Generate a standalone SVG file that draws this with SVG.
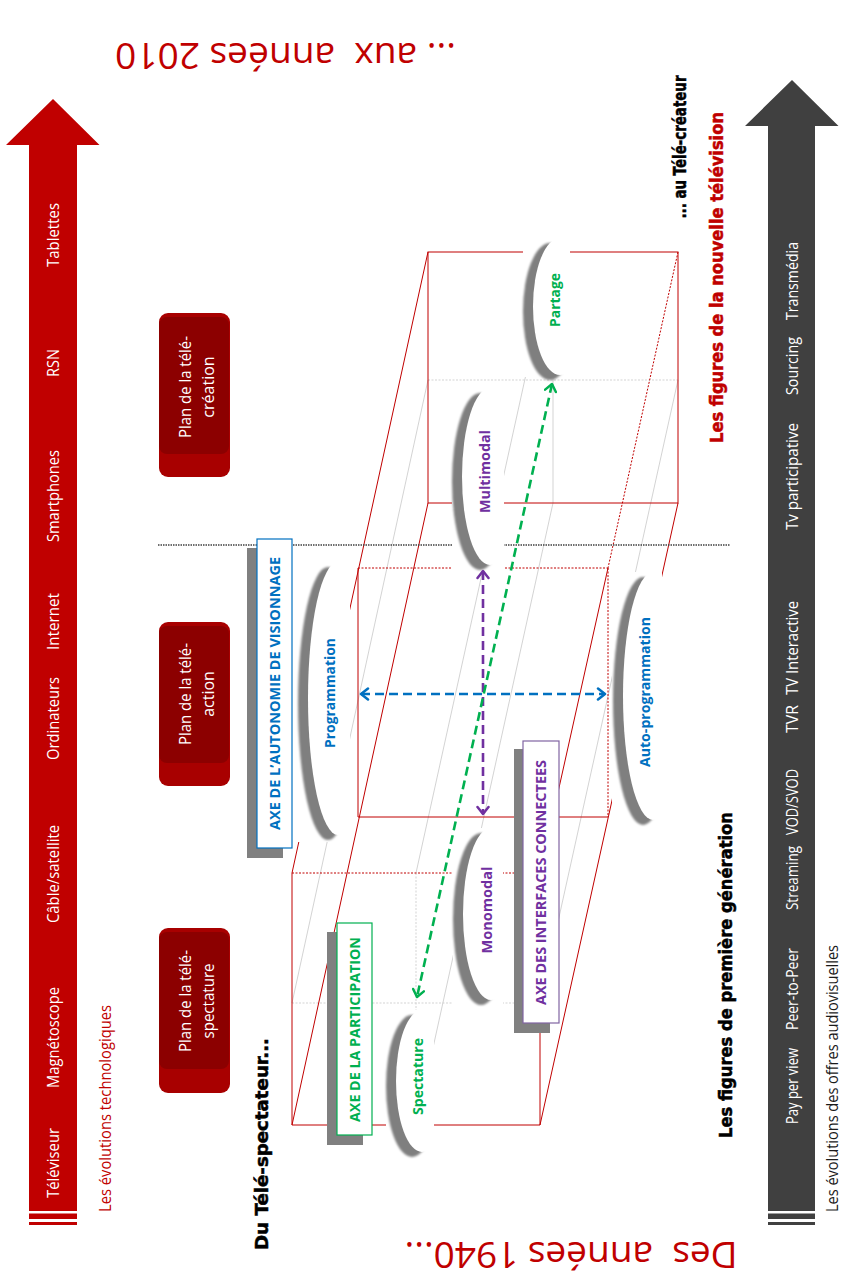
<svg xmlns="http://www.w3.org/2000/svg" width="842" height="1280" viewBox="0 0 842 1280">
<defs>
<style>
.wl{font-family:"Open Sans","Liberation Sans",sans-serif;font-size:16px;fill:#fff;text-anchor:middle}
.sm{font-family:"Open Sans","Liberation Sans",sans-serif;font-size:15.5px;text-anchor:middle}
.hv{font-family:"DejaVu Sans","Liberation Sans",sans-serif;font-weight:bold;font-size:17px;text-anchor:middle;stroke-width:0.5}
.big{font-family:"Open Sans","Liberation Sans",sans-serif;font-size:37px;fill:#c00000;text-anchor:middle}
.ax{font-family:"Open Sans","Liberation Sans",sans-serif;font-weight:bold;font-size:15px;text-anchor:middle}
.nd{font-family:"Open Sans","Liberation Sans",sans-serif;font-weight:bold;font-size:14.5px;text-anchor:middle}
.rl{stroke:#c00000;stroke-width:1;fill:none}
.rd{stroke:#c00000;stroke-width:1;fill:none;stroke-dasharray:2 1.5}
.gl{stroke:#c8c8c8;stroke-width:0.8;fill:none}
.gd{stroke:#c8c8c8;stroke-width:0.8;fill:none;stroke-dasharray:2 1.5}
.wr{fill:#fff}
.cr{fill:#000;filter:url(#crs)}
.shd{fill:#808080}
.pl{fill:#a80000}
.pf{fill:#8c0000}
</style>
<filter id="crs" x="-80%" y="-20%" width="260%" height="140%" color-interpolation-filters="sRGB">
<feOffset in="SourceAlpha" dx="-10" dy="5" result="o"/>
<feGaussianBlur in="o" stdDeviation="0.8" result="b"/>
<feComposite in="b" in2="SourceAlpha" operator="out" result="s"/>
<feFlood flood-color="#7f7f7f"/>
<feComposite in2="s" operator="in"/>
</filter>
<marker id="mb" markerWidth="14" markerHeight="14" refX="11" refY="7" orient="auto-start-reverse" markerUnits="userSpaceOnUse"><path d="M4,1.5 L11,7 L4,12.5" fill="none" stroke="#0070c0" stroke-width="2.5" stroke-linecap="round" stroke-linejoin="round"/></marker>
<marker id="mp" markerWidth="14" markerHeight="14" refX="11" refY="7" orient="auto-start-reverse" markerUnits="userSpaceOnUse"><path d="M4,1.5 L11,7 L4,12.5" fill="none" stroke="#7030a0" stroke-width="2.5" stroke-linecap="round" stroke-linejoin="round"/></marker>
<marker id="mg" markerWidth="14" markerHeight="14" refX="11" refY="7" orient="auto-start-reverse" markerUnits="userSpaceOnUse"><path d="M4,1.5 L11,7 L4,12.5" fill="none" stroke="#00b050" stroke-width="2.5" stroke-linecap="round" stroke-linejoin="round"/></marker>
</defs>
<rect width="842" height="1280" fill="#fff"/>

<g id="titles">
<text class="big" xml:space="preserve" transform="translate(285.5,43) rotate(180)" textLength="341" lengthAdjust="spacingAndGlyphs">... aux  années 2010</text>
<text class="big" xml:space="preserve" transform="translate(571,1242) rotate(180)" textLength="333" lengthAdjust="spacingAndGlyphs">Des  années 1940...</text>
<text class="hv" fill="#000" stroke="#000" transform="translate(680,147) rotate(-90)" dy="0.36em" textLength="143" lengthAdjust="spacingAndGlyphs">... au Télé-créateur</text>
<text class="hv" fill="#c00000" stroke="#c00000" transform="translate(717,277.5) rotate(-90)" dy="0.36em" textLength="331" lengthAdjust="spacingAndGlyphs">Les figures de la nouvelle télévision</text>
<text class="hv" fill="#000" stroke="#000" transform="translate(262,1144) rotate(-90)" dy="0.36em" textLength="212" lengthAdjust="spacingAndGlyphs">Du Télé-spectateur...</text>
<text class="hv" fill="#000" stroke="#000" transform="translate(726,975) rotate(-90)" dy="0.36em" textLength="326" lengthAdjust="spacingAndGlyphs">Les figures de première génération</text>
<text class="sm" fill="#c00000" transform="translate(106,1108.5) rotate(-90)" dy="0.35em" textLength="207" lengthAdjust="spacingAndGlyphs">Les évolutions technologiques</text>
<text class="sm" fill="#1a1a1a" transform="translate(833,1078.5) rotate(-90)" dy="0.35em" textLength="267" lengthAdjust="spacingAndGlyphs">Les évolutions des offres audiovisuelles</text>
</g>

<g id="tech-arrow">
<polygon points="53,99 99.5,145 77,145 77,1211 29,1211 29,145 6,145" fill="#c00000"/>
<rect x="29" y="1213.5" width="48" height="5.5" fill="#c00000"/>
<rect x="29" y="1222" width="48" height="3" fill="#c00000"/>
<text class="wl" transform="translate(53,1163) rotate(-90)" dy="0.35em" textLength="70" lengthAdjust="spacingAndGlyphs">Téléviseur</text>
<text class="wl" transform="translate(53,1037.5) rotate(-90)" dy="0.35em" textLength="101" lengthAdjust="spacingAndGlyphs">Magnétoscope</text>
<text class="wl" transform="translate(53,874) rotate(-90)" dy="0.35em" textLength="98" lengthAdjust="spacingAndGlyphs">Câble/satellite</text>
<text class="wl" transform="translate(53,718.5) rotate(-90)" dy="0.35em" textLength="83" lengthAdjust="spacingAndGlyphs">Ordinateurs</text>
<text class="wl" transform="translate(53,621.5) rotate(-90)" dy="0.35em" textLength="57" lengthAdjust="spacingAndGlyphs">Internet</text>
<text class="wl" transform="translate(53,496) rotate(-90)" dy="0.35em" textLength="92" lengthAdjust="spacingAndGlyphs">Smartphones</text>
<text class="wl" transform="translate(53,363) rotate(-90)" dy="0.35em" textLength="28" lengthAdjust="spacingAndGlyphs">RSN</text>
<text class="wl" transform="translate(53,235) rotate(-90)" dy="0.35em" textLength="64" lengthAdjust="spacingAndGlyphs">Tablettes</text>
</g>

<g id="offer-arrow">
<polygon points="792,80 838.5,126 815,126 815,1211 768,1211 768,126 745,126" fill="#404040"/>
<rect x="768" y="1213.5" width="47" height="5.5" fill="#404040"/>
<rect x="768" y="1222" width="47" height="3" fill="#404040"/>
<text class="wl" transform="translate(792,1086) rotate(-90)" dy="0.35em" textLength="76" lengthAdjust="spacingAndGlyphs">Pay per view</text>
<text class="wl" transform="translate(792,989) rotate(-90)" dy="0.35em" textLength="82" lengthAdjust="spacingAndGlyphs">Peer-to-Peer</text>
<text class="wl" transform="translate(792,878) rotate(-90)" dy="0.35em" textLength="64" lengthAdjust="spacingAndGlyphs">Streaming</text>
<text class="wl" transform="translate(792,802) rotate(-90)" dy="0.35em" textLength="66" lengthAdjust="spacingAndGlyphs">VOD/SVOD</text>
<text class="wl" transform="translate(792,719) rotate(-90)" dy="0.35em" textLength="28" lengthAdjust="spacingAndGlyphs">TVR</text>
<text class="wl" transform="translate(792,648) rotate(-90)" dy="0.35em" textLength="94" lengthAdjust="spacingAndGlyphs">TV Interactive</text>
<text class="wl" transform="translate(792,476.5) rotate(-90)" dy="0.35em" textLength="107" lengthAdjust="spacingAndGlyphs">Tv participative</text>
<text class="wl" transform="translate(792,366) rotate(-90)" dy="0.35em" textLength="58" lengthAdjust="spacingAndGlyphs">Sourcing</text>
<text class="wl" transform="translate(792,281) rotate(-90)" dy="0.35em" textLength="78" lengthAdjust="spacingAndGlyphs">Transmédia</text>
</g>

<g id="plan-creation">
<rect class="pl" x="159" y="313" width="71" height="164" rx="9"/>
<rect class="pf" x="159" y="317" width="70" height="137" rx="8"/>
<text class="wl" transform="translate(185,387) rotate(-90)" dy="0.35em" textLength="102" lengthAdjust="spacingAndGlyphs">Plan de la télé-</text>
<text class="wl" transform="translate(208,387) rotate(-90)" dy="0.35em">création</text>
</g>
<g id="plan-action">
<rect class="pl" x="159" y="622" width="71" height="164" rx="9"/>
<rect class="pf" x="159" y="626" width="70" height="137" rx="8"/>
<text class="wl" transform="translate(185,694) rotate(-90)" dy="0.35em" textLength="102" lengthAdjust="spacingAndGlyphs">Plan de la télé-</text>
<text class="wl" transform="translate(208,694) rotate(-90)" dy="0.35em">action</text>
</g>
<g id="plan-spectature">
<rect class="pl" x="159" y="928" width="71" height="165" rx="9"/>
<rect class="pf" x="159" y="932" width="70" height="137" rx="8"/>
<text class="wl" transform="translate(185,1001) rotate(-90)" dy="0.35em" textLength="102" lengthAdjust="spacingAndGlyphs">Plan de la télé-</text>
<text class="wl" transform="translate(208,1001) rotate(-90)" dy="0.35em" textLength="75" lengthAdjust="spacingAndGlyphs">spectature</text>
</g>

<g id="cube">
<line class="gl" x1="428" y1="380" x2="292" y2="1003"/>
<line class="gl" x1="678" y1="380" x2="540" y2="1003"/>
<line class="gl" x1="553" y1="252" x2="416" y2="873"/>
<line class="gl" x1="553" y1="503" x2="416" y2="1125"/>
<line class="gd" x1="428" y1="380" x2="678" y2="380"/>
<line class="gl" x1="553" y1="252" x2="553" y2="503"/>
<line class="gd" x1="292" y1="1003" x2="540" y2="1003"/>
<line class="gd" x1="416" y1="873" x2="416" y2="1125"/>
<rect class="rl" x="428" y="252" width="250" height="251"/>
<line class="rd" x1="358" y1="568" x2="608" y2="568"/>
<line class="rl" x1="358" y1="568" x2="358" y2="817"/>
<line class="rd" x1="608" y1="568" x2="608" y2="817"/>
<line class="rl" x1="358" y1="817" x2="608" y2="817"/>
<line class="rd" x1="292" y1="873" x2="540" y2="873"/>
<line class="rl" x1="292" y1="873" x2="292" y2="1125"/>
<line class="rl" x1="292" y1="1125" x2="540" y2="1125"/>
<line class="rl" x1="540" y1="873" x2="540" y2="1125"/>
<line class="rl" x1="428" y1="252" x2="292" y2="873"/>
<line class="rl" x1="428" y1="503" x2="292" y2="1125"/>
<line class="rd" x1="678" y1="252" x2="608" y2="568"/>
<line class="rl" x1="608" y1="568" x2="540" y2="873"/>
<line class="rl" x1="678" y1="503" x2="540" y2="1125"/>
<line x1="158" y1="545" x2="730" y2="545" stroke="#404040" stroke-width="1.3" stroke-dasharray="1.5 1"/>
</g>

<g id="node-partage">
<rect class="wr" x="523" y="240" width="47" height="137"/>
<ellipse class="cr" cx="560" cy="306.5" rx="27" ry="68.5"/>
<text class="nd" fill="#00b050" transform="translate(555,300) rotate(-90)" dy="0.35em" textLength="54" lengthAdjust="spacingAndGlyphs">Partage</text>
</g>
<g id="node-multimodal">
<rect class="wr" x="452" y="390" width="52" height="182"/>
<ellipse class="cr" cx="490" cy="476.5" rx="28" ry="88.5"/>
<text class="nd" fill="#7030a0" transform="translate(485,471.5) rotate(-90)" dy="0.35em" textLength="83" lengthAdjust="spacingAndGlyphs">Multimodal</text>
</g>
<g id="node-programmation">
<rect class="wr" x="296" y="562" width="54" height="280"/>
<ellipse class="cr" cx="338" cy="698.5" rx="30" ry="136.5"/>
<text class="nd" fill="#0070c0" transform="translate(330,693) rotate(-90)" dy="0.35em" textLength="110" lengthAdjust="spacingAndGlyphs">Programmation</text>
</g>
<g id="node-autoprogrammation">
<rect class="wr" x="612" y="572" width="50" height="256"/>
<ellipse class="cr" cx="653" cy="696" rx="30" ry="124"/>
<text class="nd" fill="#0070c0" transform="translate(645,692) rotate(-90)" dy="0.35em" textLength="150" lengthAdjust="spacingAndGlyphs">Auto-programmation</text>
</g>
<g id="node-monomodal">
<rect class="wr" x="453" y="828" width="50" height="178"/>
<ellipse class="cr" cx="491" cy="914" rx="28" ry="86"/>
<text class="nd" fill="#7030a0" transform="translate(487,910) rotate(-90)" dy="0.35em" textLength="87" lengthAdjust="spacingAndGlyphs">Monomodal</text>
</g>
<g id="node-spectature">
<rect class="wr" x="386" y="1010" width="48" height="152"/>
<ellipse class="cr" cx="422" cy="1081" rx="26" ry="71"/>
<text class="nd" fill="#00b050" transform="translate(418,1076.5) rotate(-90)" dy="0.35em" textLength="77" lengthAdjust="spacingAndGlyphs">Spectature</text>
</g>

<g id="connectors" fill="none" stroke-width="2.6" stroke-dasharray="9 5">
<line x1="361" y1="694" x2="605" y2="694" stroke="#0070c0" marker-start="url(#mb)" marker-end="url(#mb)"/>
<line x1="483" y1="571" x2="483" y2="814" stroke="#7030a0" marker-start="url(#mp)" marker-end="url(#mp)"/>
<line x1="552" y1="384" x2="417" y2="997" stroke="#00b050" marker-start="url(#mg)" marker-end="url(#mg)"/>
</g>

<g id="axis-autonomie">
<rect class="shd" x="247" y="548" width="36" height="310"/>
<rect x="257" y="539" width="35" height="309" fill="#fff" stroke="#0070c0" stroke-width="1.2"/>
<text class="ax" fill="#0070c0" transform="translate(274.5,693.5) rotate(-90)" dy="0.36em" textLength="273" lengthAdjust="spacingAndGlyphs">AXE DE L’AUTONOMIE DE VISIONNAGE</text>
</g>
<g id="axis-participation">
<rect class="shd" x="327" y="932" width="36" height="213"/>
<rect x="337" y="923" width="35" height="212" fill="#fff" stroke="#00b050" stroke-width="1.2"/>
<text class="ax" fill="#00b050" transform="translate(354.5,1029.5) rotate(-90)" dy="0.36em" textLength="185" lengthAdjust="spacingAndGlyphs">AXE DE LA PARTICIPATION</text>
</g>
<g id="axis-interfaces">
<rect class="shd" x="514" y="749" width="36" height="284"/>
<rect x="523" y="741" width="36" height="282" fill="#fff" stroke="#8064a2" stroke-width="1.2"/>
<text class="ax" fill="#7030a0" transform="translate(541,882.5) rotate(-90)" dy="0.36em" textLength="245" lengthAdjust="spacingAndGlyphs">AXE DES INTERFACES CONNECTEES</text>
</g>
</svg>
